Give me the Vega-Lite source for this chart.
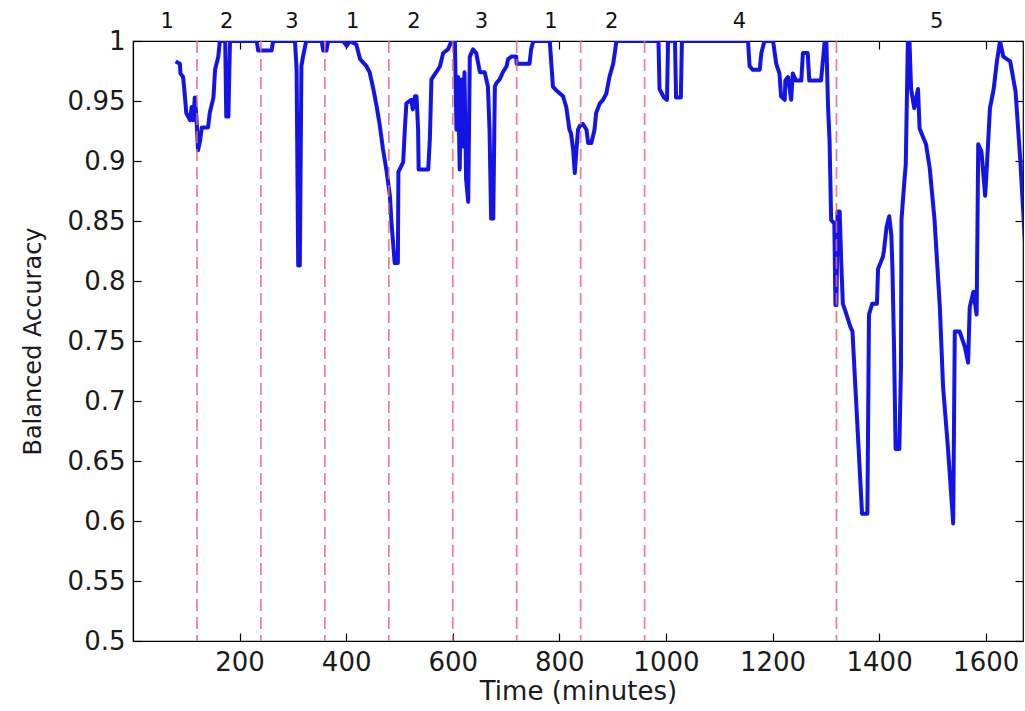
{
  "$schema": "https://vega.github.io/schema/vega-lite/v6.json",
  "width": 890,
  "height": 600,
  "autosize": {"type": "none"},
  "padding": {"left": 133, "top": 41, "right": 2, "bottom": 70},
  "background": "white",
  "config": {
    "view": {"stroke": "black", "strokeWidth": 1.2},
    "axis": {
      "grid": false,
      "domainColor": "black",
      "domainWidth": 1.2,
      "tickColor": "black",
      "tickWidth": 1.2,
      "tickSize": -8,
      "labelFont": "DejaVu Sans",
      "labelFontSize": 26,
      "labelColor": "#1a1a1a",
      "titleFont": "DejaVu Sans",
      "titleFontWeight": "normal",
      "titleColor": "#1a1a1a"
    }
  },
  "datasets": {
    "acc": [
      {"t": 80, "acc": 0.983}, {"t": 88, "acc": 0.981}, {"t": 89, "acc": 0.973}, {"t": 94, "acc": 0.970},
      {"t": 97, "acc": 0.956}, {"t": 100, "acc": 0.940}, {"t": 107, "acc": 0.934}, {"t": 110, "acc": 0.945},
      {"t": 113, "acc": 0.934}, {"t": 116, "acc": 0.953}, {"t": 119, "acc": 0.937}, {"t": 122, "acc": 0.909},
      {"t": 126, "acc": 0.917}, {"t": 129, "acc": 0.928}, {"t": 141, "acc": 0.928}, {"t": 144, "acc": 0.940},
      {"t": 151, "acc": 0.953}, {"t": 154, "acc": 0.976}, {"t": 160, "acc": 0.987}, {"t": 163, "acc": 1.0},
      {"t": 173, "acc": 1.0}, {"t": 175, "acc": 0.937}, {"t": 179, "acc": 0.937}, {"t": 182, "acc": 1.0},
      {"t": 232, "acc": 1.0}, {"t": 235, "acc": 0.992}, {"t": 260, "acc": 0.992}, {"t": 263, "acc": 1.0},
      {"t": 304, "acc": 1.0}, {"t": 307, "acc": 0.976}, {"t": 310, "acc": 0.813}, {"t": 313, "acc": 0.813},
      {"t": 316, "acc": 0.979}, {"t": 319, "acc": 0.987}, {"t": 325, "acc": 1.0}, {"t": 354, "acc": 1.0},
      {"t": 357, "acc": 0.992}, {"t": 363, "acc": 0.992}, {"t": 366, "acc": 1.0}, {"t": 394, "acc": 1.0},
      {"t": 401, "acc": 0.996}, {"t": 407, "acc": 1.0}, {"t": 419, "acc": 0.997}, {"t": 426, "acc": 0.985},
      {"t": 432, "acc": 0.982}, {"t": 438, "acc": 0.979}, {"t": 444, "acc": 0.974}, {"t": 451, "acc": 0.960},
      {"t": 457, "acc": 0.946}, {"t": 463, "acc": 0.930}, {"t": 469, "acc": 0.910}, {"t": 476, "acc": 0.891},
      {"t": 482, "acc": 0.871}, {"t": 485, "acc": 0.849}, {"t": 488, "acc": 0.832}, {"t": 491, "acc": 0.815},
      {"t": 497, "acc": 0.815}, {"t": 498, "acc": 0.891}, {"t": 507, "acc": 0.899}, {"t": 510, "acc": 0.926},
      {"t": 513, "acc": 0.948}, {"t": 522, "acc": 0.951}, {"t": 525, "acc": 0.943}, {"t": 529, "acc": 0.954},
      {"t": 532, "acc": 0.954}, {"t": 535, "acc": 0.926}, {"t": 536, "acc": 0.893}, {"t": 554, "acc": 0.893},
      {"t": 557, "acc": 0.918}, {"t": 560, "acc": 0.968}, {"t": 569, "acc": 0.974}, {"t": 576, "acc": 0.979},
      {"t": 582, "acc": 0.990}, {"t": 591, "acc": 0.993}, {"t": 598, "acc": 1.0}, {"t": 604, "acc": 1.0},
      {"t": 607, "acc": 0.926}, {"t": 610, "acc": 0.970}, {"t": 613, "acc": 0.893}, {"t": 616, "acc": 0.968},
      {"t": 619, "acc": 0.912}, {"t": 622, "acc": 0.974}, {"t": 625, "acc": 0.885}, {"t": 629, "acc": 0.866},
      {"t": 632, "acc": 0.987}, {"t": 638, "acc": 0.993}, {"t": 644, "acc": 0.990}, {"t": 651, "acc": 0.974},
      {"t": 660, "acc": 0.974}, {"t": 666, "acc": 0.962}, {"t": 669, "acc": 0.926}, {"t": 672, "acc": 0.852},
      {"t": 676, "acc": 0.852}, {"t": 679, "acc": 0.962}, {"t": 682, "acc": 0.965}, {"t": 688, "acc": 0.968},
      {"t": 694, "acc": 0.974}, {"t": 701, "acc": 0.979}, {"t": 704, "acc": 0.985}, {"t": 710, "acc": 0.987},
      {"t": 719, "acc": 0.987}, {"t": 720, "acc": 0.981}, {"t": 744, "acc": 0.981}, {"t": 747, "acc": 0.993},
      {"t": 751, "acc": 1.0}, {"t": 782, "acc": 1.0}, {"t": 788, "acc": 0.962}, {"t": 794, "acc": 0.959},
      {"t": 807, "acc": 0.954}, {"t": 813, "acc": 0.945}, {"t": 819, "acc": 0.926}, {"t": 822, "acc": 0.923},
      {"t": 826, "acc": 0.909}, {"t": 829, "acc": 0.890}, {"t": 832, "acc": 0.909}, {"t": 835, "acc": 0.926},
      {"t": 838, "acc": 0.929}, {"t": 844, "acc": 0.931}, {"t": 851, "acc": 0.926}, {"t": 854, "acc": 0.915},
      {"t": 860, "acc": 0.915}, {"t": 866, "acc": 0.926}, {"t": 869, "acc": 0.940}, {"t": 876, "acc": 0.948},
      {"t": 882, "acc": 0.951}, {"t": 888, "acc": 0.956}, {"t": 894, "acc": 0.970}, {"t": 901, "acc": 0.981},
      {"t": 904, "acc": 0.990}, {"t": 907, "acc": 1.0}, {"t": 986, "acc": 1.0}, {"t": 988, "acc": 0.960},
      {"t": 996, "acc": 0.953}, {"t": 1002, "acc": 0.951}, {"t": 1004, "acc": 1.0}, {"t": 1017, "acc": 1.0},
      {"t": 1019, "acc": 0.953}, {"t": 1028, "acc": 0.953}, {"t": 1030, "acc": 1.0}, {"t": 1154, "acc": 1.0},
      {"t": 1157, "acc": 0.979}, {"t": 1163, "acc": 0.976}, {"t": 1176, "acc": 0.976}, {"t": 1179, "acc": 0.990},
      {"t": 1185, "acc": 1.0}, {"t": 1201, "acc": 1.0}, {"t": 1207, "acc": 0.981}, {"t": 1213, "acc": 0.973},
      {"t": 1216, "acc": 0.954}, {"t": 1223, "acc": 0.951}, {"t": 1224, "acc": 0.967}, {"t": 1229, "acc": 0.970},
      {"t": 1235, "acc": 0.951}, {"t": 1238, "acc": 0.973}, {"t": 1244, "acc": 0.967}, {"t": 1254, "acc": 0.967},
      {"t": 1257, "acc": 0.990}, {"t": 1266, "acc": 0.990}, {"t": 1269, "acc": 0.967}, {"t": 1291, "acc": 0.967},
      {"t": 1298, "acc": 1.0}, {"t": 1301, "acc": 1.0}, {"t": 1304, "acc": 0.948}, {"t": 1307, "acc": 0.917},
      {"t": 1310, "acc": 0.851}, {"t": 1316, "acc": 0.848}, {"t": 1318, "acc": 0.780}, {"t": 1320, "acc": 0.780},
      {"t": 1322, "acc": 0.858}, {"t": 1326, "acc": 0.858}, {"t": 1329, "acc": 0.815}, {"t": 1332, "acc": 0.781},
      {"t": 1336, "acc": 0.776}, {"t": 1346, "acc": 0.762}, {"t": 1350, "acc": 0.758}, {"t": 1368, "acc": 0.606},
      {"t": 1378, "acc": 0.606}, {"t": 1381, "acc": 0.772}, {"t": 1387, "acc": 0.781}, {"t": 1396, "acc": 0.781},
      {"t": 1398, "acc": 0.810}, {"t": 1407, "acc": 0.820}, {"t": 1409, "acc": 0.825}, {"t": 1414, "acc": 0.845},
      {"t": 1419, "acc": 0.854}, {"t": 1423, "acc": 0.838}, {"t": 1425, "acc": 0.811}, {"t": 1428, "acc": 0.745},
      {"t": 1431, "acc": 0.660}, {"t": 1438, "acc": 0.660}, {"t": 1441, "acc": 0.728}, {"t": 1442, "acc": 0.851},
      {"t": 1447, "acc": 0.881}, {"t": 1450, "acc": 0.897}, {"t": 1454, "acc": 1.0}, {"t": 1457, "acc": 1.0},
      {"t": 1460, "acc": 0.960}, {"t": 1466, "acc": 0.944}, {"t": 1473, "acc": 0.960}, {"t": 1476, "acc": 0.927},
      {"t": 1488, "acc": 0.914}, {"t": 1495, "acc": 0.894}, {"t": 1504, "acc": 0.851}, {"t": 1514, "acc": 0.778},
      {"t": 1520, "acc": 0.712}, {"t": 1529, "acc": 0.662}, {"t": 1539, "acc": 0.598}, {"t": 1542, "acc": 0.758},
      {"t": 1551, "acc": 0.758}, {"t": 1561, "acc": 0.745}, {"t": 1567, "acc": 0.732}, {"t": 1570, "acc": 0.778},
      {"t": 1577, "acc": 0.791}, {"t": 1583, "acc": 0.772}, {"t": 1586, "acc": 0.914}, {"t": 1592, "acc": 0.908},
      {"t": 1599, "acc": 0.871}, {"t": 1602, "acc": 0.894}, {"t": 1608, "acc": 0.944}, {"t": 1615, "acc": 0.960},
      {"t": 1621, "acc": 0.983}, {"t": 1627, "acc": 1.0}, {"t": 1633, "acc": 0.987}, {"t": 1646, "acc": 0.983},
      {"t": 1656, "acc": 0.958}, {"t": 1665, "acc": 0.900}, {"t": 1674, "acc": 0.830}
    ],
    "changes": [
      {"t": 120}, {"t": 240}, {"t": 360}, {"t": 480}, {"t": 600}, {"t": 720}, {"t": 840}, {"t": 960}, {"t": 1320}
    ],
    "segments": [
      {"t": 64, "label": "1"}, {"t": 176, "label": "2"}, {"t": 298, "label": "3"}, {"t": 412, "label": "1"},
      {"t": 527, "label": "2"}, {"t": 654, "label": "3"}, {"t": 784, "label": "1"}, {"t": 898, "label": "2"},
      {"t": 1138, "label": "4"}, {"t": 1508, "label": "5"}
    ]
  },
  "layer": [
    {
      "data": {"name": "acc"},
      "mark": {"type": "line", "color": "#1414e6", "strokeWidth": 4, "clip": true, "strokeJoin": "round"},
      "encoding": {
        "x": {
          "field": "t", "type": "quantitative",
          "scale": {"domain": [0, 1670], "nice": false, "zero": false},
          "axis": {"orient": "bottom", "values": [200, 400, 600, 800, 1000, 1200, 1400, 1600], "format": "d", "title": "Time (minutes)", "titleFontSize": 26, "labelPadding": 16, "titlePadding": 3}
        },
        "y": {
          "field": "acc", "type": "quantitative",
          "scale": {"domain": [0.5, 1], "nice": false, "zero": false},
          "axis": {"orient": "left", "values": [0.5, 0.55, 0.6, 0.65, 0.7, 0.75, 0.8, 0.85, 0.9, 0.95, 1], "format": ".2~f", "title": "Balanced Accuracy", "titleFontSize": 24, "labelPadding": 16, "titlePadding": 22}
        }
      }
    },
    {
      "data": {"name": "changes"},
      "mark": {"type": "rule", "color": "#e06a7e", "strokeWidth": 1.7, "strokeDash": [12, 6], "opacity": 0.85},
      "encoding": {
        "x": {
          "field": "t", "type": "quantitative",
          "axis": {"orient": "top", "values": [200, 400, 600, 800, 1000, 1200, 1400, 1600], "labels": false, "title": null, "domain": false}
        }
      }
    },
    {
      "data": {"name": "segments"},
      "mark": {"type": "text", "font": "DejaVu Sans", "fontSize": 21, "baseline": "middle", "align": "center", "color": "#111"},
      "encoding": {
        "x": {"field": "t", "type": "quantitative", "axis": null},
        "y": {
          "datum": 1.0158, "type": "quantitative",
          "axis": {"orient": "right", "values": [0.5, 0.55, 0.6, 0.65, 0.7, 0.75, 0.8, 0.85, 0.9, 0.95, 1], "labels": false, "title": null, "domain": false}
        },
        "text": {"field": "label"}
      }
    }
  ],
  "resolve": {"axis": {"x": "independent", "y": "independent"}}
}
